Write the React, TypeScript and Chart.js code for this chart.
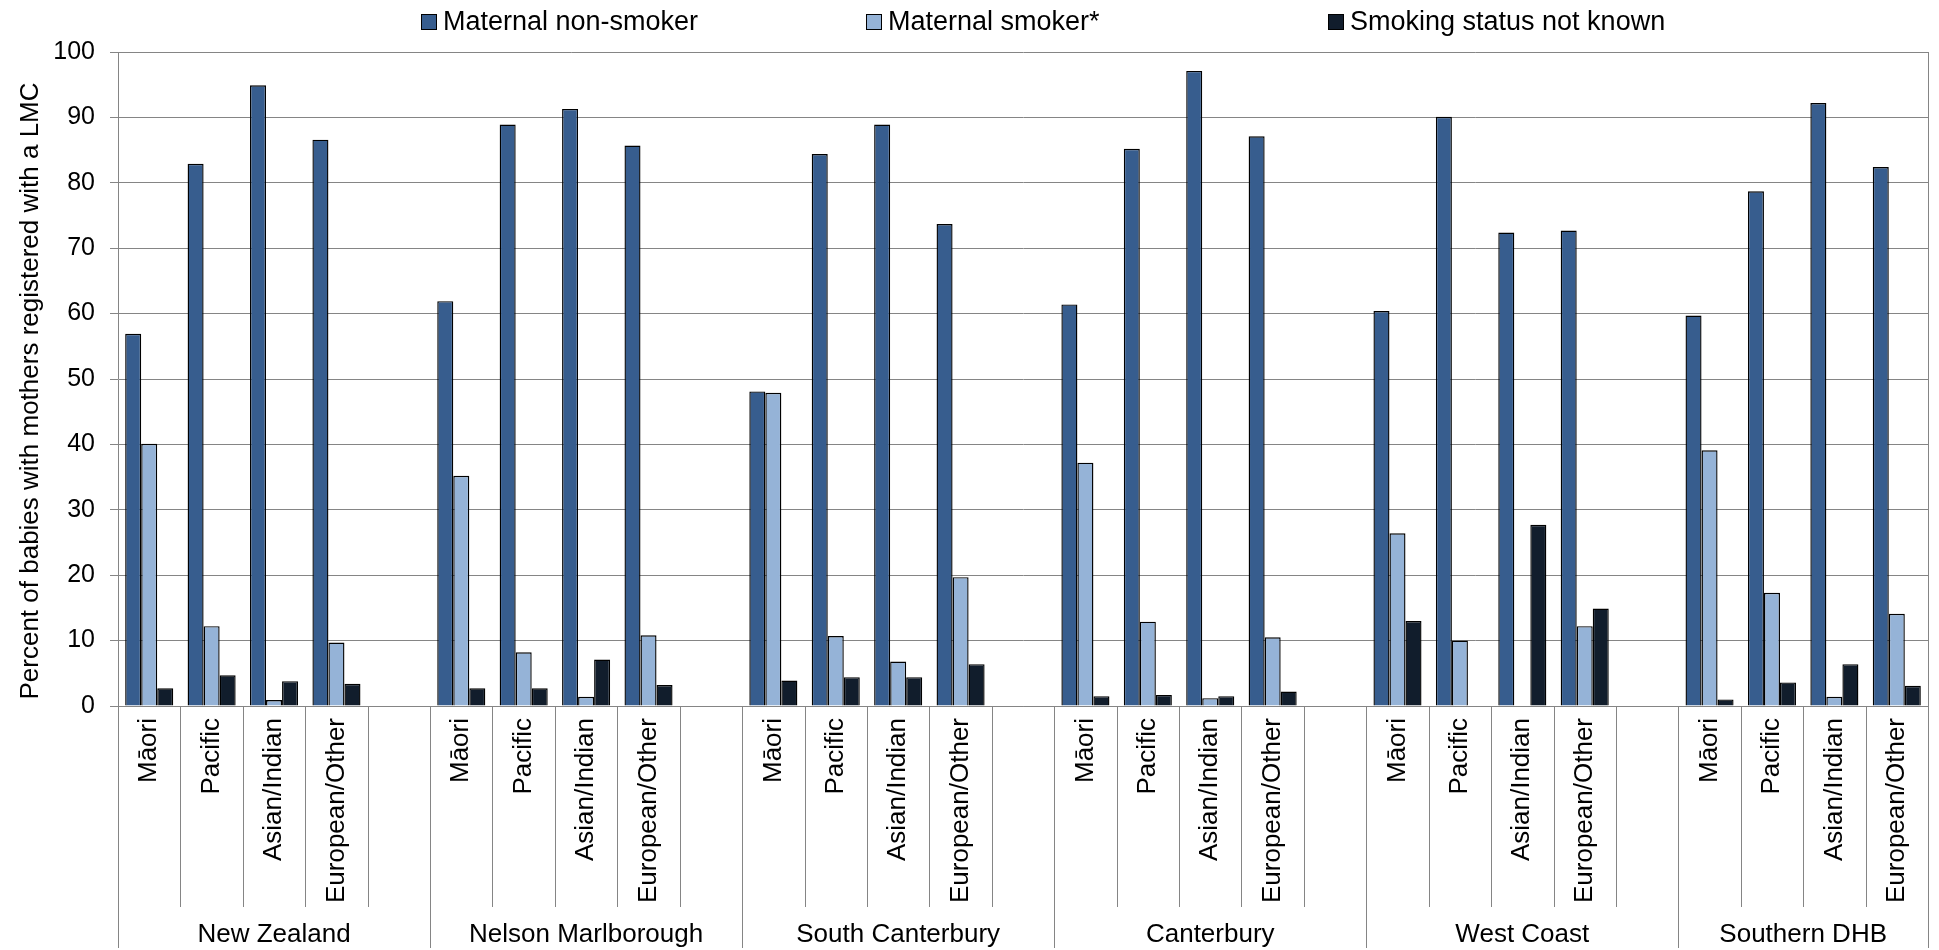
import React, { useEffect, useRef } from 'react';
import { Chart, registerables } from 'chart.js';

Chart.register(...registerables);

const groups = ['New Zealand', 'Nelson Marlborough', 'South Canterbury', 'Canterbury', 'West Coast', 'Southern DHB'];
const ethnicities = ['Māori', 'Pacific', 'Asian/Indian', 'European/Other'];
const seriesNames = ['Maternal non-smoker', 'Maternal smoker*', 'Smoking status not known'];
const yTicks = [0, 10, 20, 30, 40, 50, 60, 70, 80, 90, 100];
const yTitle = 'Percent of babies with mothers registered with a LMC';

// values per group, in ethnicity order
const nonSmoker = [
  56.9, 82.9, 94.9, 86.6,
  61.9, 88.9, 91.3, 85.7,
  48.1, 84.4, 88.9, 73.7,
  61.4, 85.2, 97.1, 87.1,
  60.4, 90.1, 72.4, 72.7,
  59.7, 78.7, 92.2, 82.4,
];
const smoker = [
  40.1, 12.2, 0.9, 9.7,
  35.2, 8.2, 1.4, 10.8,
  47.9, 10.7, 6.8, 19.7,
  37.2, 12.9, 1.2, 10.5,
  26.4, 10.0, 0, 12.2,
  39.1, 17.3, 1.4, 14.1,
];
const notKnown = [
  2.7, 4.7, 3.8, 3.4,
  2.7, 2.7, 7.1, 3.2,
  3.9, 4.4, 4.4, 6.4,
  1.5, 1.7, 1.5, 2.2,
  13.0, 0, 27.7, 14.9,
  1.0, 3.6, 6.4, 3.1,
];

const colors = ['#375D8E', '#95B3D7', '#111D2C'];
const GRID = '#858585';
const FONT = '"Liberation Sans", Arial, Helvetica, sans-serif';

export default function App() {
  const ref = useRef<HTMLCanvasElement>(null);

  useEffect(() => {
    if (!ref.current) return;
    const labels: string[] = [];
    const d0: (number | null)[] = [];
    const d1: (number | null)[] = [];
    const d2: (number | null)[] = [];
    const groupRanges: { name: string; start: number; end: number }[] = [];
    groups.forEach((g, gi) => {
      const start = labels.length;
      ethnicities.forEach((e, ei) => {
        labels.push(e);
        d0.push(nonSmoker[gi * 4 + ei]);
        d1.push(smoker[gi * 4 + ei]);
        d2.push(notKnown[gi * 4 + ei]);
      });
      if (gi < groups.length - 1) {
        labels.push('');
        d0.push(null);
        d1.push(null);
        d2.push(null);
      }
      groupRanges.push({ name: g, start, end: labels.length - 1 });
    });

    const legendX = [421, 866, 1328];

    const decor = {
      id: 'decor',
      afterDraw(chart: any) {
        const { ctx, chartArea } = chart;
        const x = chart.scales.x;
        const n = labels.length;
        const half = (x.getPixelForValue(1) - x.getPixelForValue(0)) / 2;
        const H = chart.height;
        const starts = new Set<number>(groupRanges.map((r) => r.start));
        ctx.save();
        ctx.strokeStyle = GRID;
        ctx.lineWidth = 1;
        for (let i = 0; i <= n; i++) {
          const px = Math.round(i < n ? x.getPixelForValue(i) - half : x.getPixelForValue(n - 1) + half) + 0.5;
          const isGroup = starts.has(i) || i === n;
          const top = i === n ? chartArea.top : chartArea.bottom;
          const bottom = isGroup ? H - 2 : H - 43;
          ctx.beginPath();
          ctx.moveTo(px, top);
          ctx.lineTo(px, bottom);
          ctx.stroke();
        }
        ctx.fillStyle = '#000';
        ctx.font = `26px ${FONT}`;
        ctx.textAlign = 'center';
        ctx.textBaseline = 'alphabetic';
        groupRanges.forEach((r) => {
          const cx = (x.getPixelForValue(r.start) - half + x.getPixelForValue(r.end) + half) / 2;
          ctx.fillText(r.name, cx, H - 8);
        });
        // y-axis title
        ctx.save();
        ctx.translate(38, (chartArea.top + chartArea.bottom) / 2 + 12);
        ctx.rotate(-Math.PI / 2);
        ctx.textAlign = 'center';
        ctx.textBaseline = 'alphabetic';
        ctx.fillText(yTitle, 0, 0);
        ctx.restore();
        // legend
        ctx.font = `27px ${FONT}`;
        ctx.textAlign = 'left';
        seriesNames.forEach((name, i) => {
          const lx = legendX[i];
          ctx.fillStyle = colors[i];
          ctx.fillRect(lx, 14, 16, 16);
          ctx.strokeStyle = '#000';
          ctx.lineWidth = 1;
          ctx.strokeRect(lx + 0.5, 14.5, 15, 15);
          ctx.fillStyle = '#000';
          ctx.fillText(name, lx + 22, 30);
        });
        ctx.restore();
      },
    };

    const chart = new Chart(ref.current, {
      type: 'bar',
      data: {
        labels,
        datasets: [
          { label: seriesNames[0], data: d0, backgroundColor: colors[0] },
          { label: seriesNames[1], data: d1, backgroundColor: colors[1] },
          { label: seriesNames[2], data: d2, backgroundColor: colors[2] },
        ].map((d) => ({
          ...d,
          borderColor: '#000',
          borderWidth: 1.4,
          categoryPercentage: 0.77,
          barPercentage: 1.0,
        })),
      },
      options: {
        animation: false,
        responsive: true,
        maintainAspectRatio: false,
        layout: { padding: { top: 52, right: 11, bottom: 0, left: 0 } },
        plugins: {
          legend: { display: false },
          tooltip: { enabled: false },
        },
        scales: {
          x: {
            type: 'category',
            offset: true,
            grid: { display: true, drawOnChartArea: false, drawTicks: false },
            border: { display: true, color: GRID, width: 1 },
            ticks: {
              autoSkip: false,
              maxRotation: 90,
              minRotation: 90,
              padding: 12,
              color: '#000',
              font: { family: FONT, size: 26 },
            },
            afterFit: (s: any) => {
              s.height = 244;
              s.paddingLeft = 0;
              s.paddingRight = 0;
            },
          },
          y: {
            min: 0,
            max: 100,
            afterBuildTicks: (s: any) => {
              s.ticks = yTicks.map((v) => ({ value: v }));
            },
            grid: { color: GRID, lineWidth: 1, drawTicks: true, tickLength: 8 },
            border: { display: true, color: GRID, width: 1 },
            ticks: {
              padding: 15,
              color: '#000',
              font: { family: FONT, size: 25 },
            },
            title: { display: false },
            afterFit: (s: any) => {
              s.width = 118;
              s.paddingTop = 0;
              s.paddingBottom = 0;
            },
          },
        },
      },
      plugins: [decor],
    });
    return () => chart.destroy();
  }, []);

  return (
    <div style={{ position: 'fixed', left: 0, top: 0, width: 1939, height: 950, background: '#fff' }}>
      <canvas ref={ref} />
    </div>
  );
}
